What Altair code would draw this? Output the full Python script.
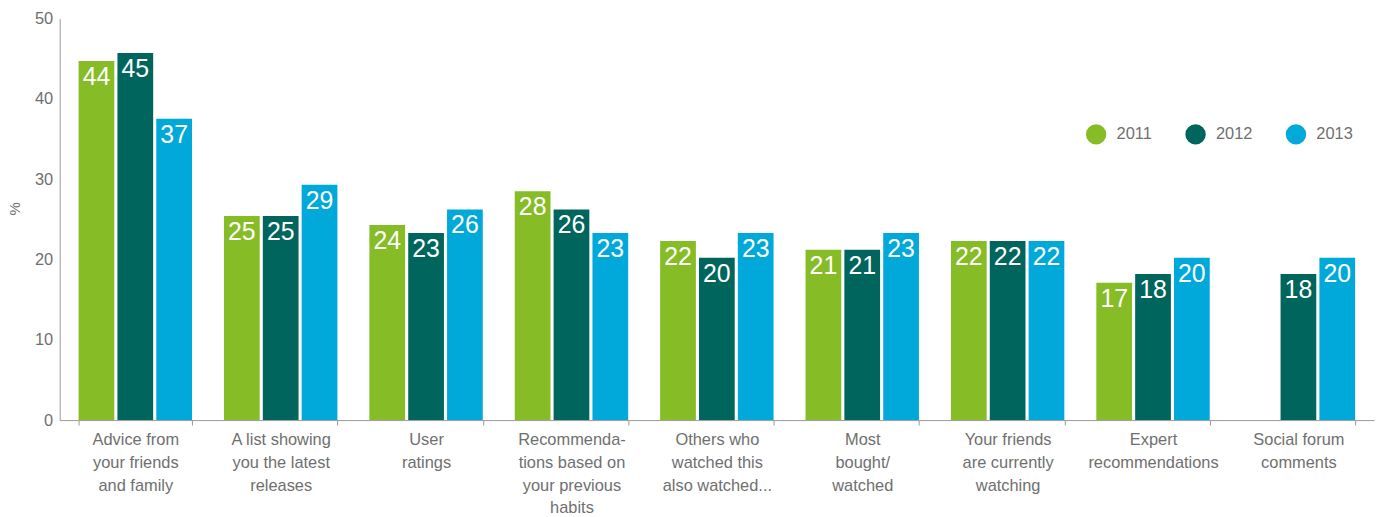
import altair as alt
import pandas as pd

categories = [
    "Advice from|your friends|and family",
    "A list showing|you the latest|releases",
    "User|ratings",
    "Recommenda-|tions based on|your previous|habits",
    "Others who|watched this|also watched...",
    "Most|bought/|watched",
    "Your friends|are currently|watching",
    "Expert|recommendations",
    "Social forum|comments",
]
years = ["2011", "2012", "2013"]
colors = ["#86BC25", "#00655D", "#00A9D9"]

# bar heights
values_2011 = [44.7, 25.4, 24.3, 28.5, 22.3, 21.2, 22.3, 17.1, None]
values_2012 = [45.7, 25.4, 23.3, 26.2, 20.2, 21.2, 22.3, 18.2, 18.2]
values_2013 = [37.5, 29.3, 26.2, 23.3, 23.3, 23.3, 22.3, 20.2, 20.2]
# printed labels
labels_2011 = ["44", "25", "24", "28", "22", "21", "22", "17", None]
labels_2012 = ["45", "25", "23", "26", "20", "21", "22", "18", "18"]
labels_2013 = ["37", "29", "26", "23", "23", "23", "22", "20", "20"]

rows = []
for yr, vals, labs in zip(years, [values_2011, values_2012, values_2013],
                          [labels_2011, labels_2012, labels_2013]):
    for c, v, l in zip(categories, vals, labs):
        if v is not None:
            rows.append({"category": c, "year": yr, "value": v, "label": l})
df = pd.DataFrame(rows)

FONT = "Liberation Sans"
GRAY = "#6f6f6f"

x = alt.X(
    "category:N",
    sort=categories,
    scale=alt.Scale(paddingInner=0.22, paddingOuter=0.13),
    axis=alt.Axis(
        title=None,
        labelAngle=0,
        labelExpr="split(datum.label, '|')",
        labelFont=FONT,
        labelFontSize=16.5,
        labelColor=GRAY,
        labelLineHeight=22.7,
        labelPadding=7,
        labelBaseline="top",
        tickBand="extent",
        tickSize=5,
        tickColor="#999999",
        domainColor="#999999",
        labelOverlap=False,
    ),
)
xoff = alt.XOffset("year:N", sort=years, scale=alt.Scale(paddingInner=0.08, paddingOuter=0))
y = alt.Y(
    "value:Q",
    scale=alt.Scale(domain=[0, 50]),
    axis=alt.Axis(
        values=[0, 10, 20, 30, 40, 50],
        ticks=False,
        grid=False,
        title="%",
        titleFont=FONT,
        titleFontSize=15,
        titleFontWeight="normal",
        titleColor=GRAY,
        titlePadding=12,
        titleY=191,
        labelFont=FONT,
        labelFontSize=16.5,
        labelColor=GRAY,
        labelPadding=7,
        domainColor="#999999",
    ),
)

bars = alt.Chart(df).mark_bar().encode(
    x=x,
    xOffset=xoff,
    y=y,
    color=alt.Color(
        "year:N",
        sort=years,
        scale=alt.Scale(domain=years, range=colors),
        legend=alt.Legend(
            title=None,
            orient="none",
            legendX=1032,
            legendY=106,
            direction="horizontal",
            symbolType="circle",
            symbolSize=420,
            symbolStrokeWidth=0,
            labelFont=FONT,
            labelFontSize=16.5,
            labelColor=GRAY,
            labelOffset=10,
            columnPadding=33,
        ),
    ),
)

text = alt.Chart(df).mark_text(
    baseline="top", dy=4, color="white", fontSize=25, font=FONT
).encode(x=x, xOffset=xoff, y=y, text="label:N")

chart = (
    alt.layer(bars, text)
    .properties(
        width=1322,
        height=404,
        autosize=alt.AutoSizeParams(type="none"),
        padding={"left": 52, "top": 9, "right": 3, "bottom": 100},
    )
    .configure_view(stroke=None)
)

chart.save("out.html", embed_options={"renderer": "svg", "actions": False})
